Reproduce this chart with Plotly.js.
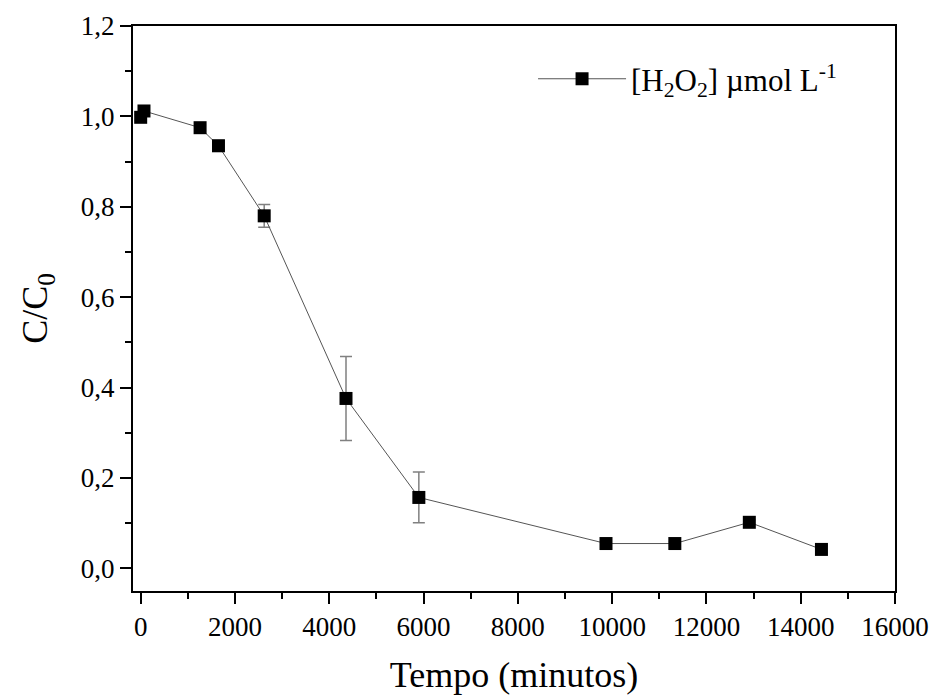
<!DOCTYPE html>
<html>
<head>
<meta charset="utf-8">
<script src="https://cdn.plot.ly/plotly-3.0.1.min.js"></script>
<style>html,body{margin:0;padding:0;background:#fff;}#chart{width:931px;height:695px;}</style>
</head>
<body>
<div id="chart"></div>
<script>
var tempo = [0, 70, 1260, 1650, 2620, 4355, 5900, 9870, 11330, 12910, 14440];
var cc0 = [0.998, 1.012, 0.975, 0.935, 0.780, 0.376, 0.157, 0.055, 0.055, 0.102, 0.042];
var erro = [0.006, 0.006, 0.006, 0.012, 0.025, 0.093, 0.056, 0.004, 0.004, 0.005, 0.008];
var seriesName = '[H<sub>2</sub>O<sub>2</sub>] µmol L<sup>-1</sup>';

var trace = {
  x: tempo, y: cc0, type: 'scatter', mode: 'lines+markers', name: seriesName,
  line: {color: '#555', width: 1},
  marker: {symbol: 'square', size: 13, color: '#000', line: {width: 0}},
  error_y: {type: 'data', array: erro, visible: true, color: '#808080', thickness: 1.5, width: 6}
};

var font = "'Liberation Serif', 'Times New Roman', serif";
var layout = {
  width: 931, height: 695,
  margin: {l: 133, r: 36, t: 26, b: 104},
  paper_bgcolor: '#fff', plot_bgcolor: '#fff',
  separators: ', ',
  font: {family: font, color: '#000', size: 27},
  showlegend: true,
  legend: {x: 0.525, y: 0.906, xanchor: 'left', yanchor: 'middle', bgcolor: 'rgba(0,0,0,0)',
           font: {size: 31, family: font, color: '#000'}, itemwidth: 88},
  xaxis: {
    range: [-163, 16000], showgrid: false, zeroline: false,
    showline: true, linecolor: '#000', linewidth: 2, mirror: true,
    ticks: 'outside', ticklen: 11, tickwidth: 2, tickcolor: '#000',
    tick0: 0, dtick: 2000, tickformat: 'd',
    tickfont: {size: 27, family: font, color: '#000'},
    minor: {dtick: 1000, ticks: 'outside', ticklen: 6, tickwidth: 2, tickcolor: '#000'},
    title: {text: 'Tempo (minutos)', font: {size: 36, family: font, color: '#000'}, standoff: 22}
  },
  yaxis: {
    range: [-0.05, 1.2], showgrid: false, zeroline: false,
    showline: true, linecolor: '#000', linewidth: 2, mirror: true,
    ticks: 'outside', ticklen: 11, tickwidth: 2, tickcolor: '#000',
    tick0: 0, dtick: 0.2, tickformat: '.1f',
    tickfont: {size: 27, family: font, color: '#000'},
    minor: {dtick: 0.1, ticks: 'outside', ticklen: 6, tickwidth: 2, tickcolor: '#000'},
    title: {text: 'C/C<sub>0</sub>', font: {size: 36, family: font, color: '#000'}, standoff: 22}
  }
};

Plotly.newPlot('chart', [trace], layout, {displayModeBar: false, staticPlot: true});
</script>
</body>
</html>
